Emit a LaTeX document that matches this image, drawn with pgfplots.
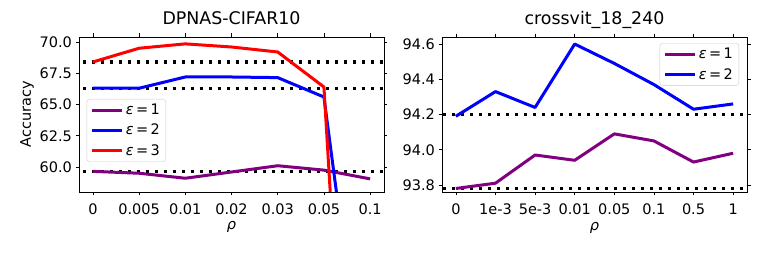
\documentclass[border=0pt]{standalone}
\usepackage{fontspec}
\setmainfont{DejaVu Sans}
\usepackage{pgfplots}
\pgfplotsset{compat=1.18}
\definecolor{mpurple}{RGB}{128,0,128}
\begin{document}
\begin{tikzpicture}
\useasboundingbox (0pt,0pt) rectangle (763pt,254pt);
\pgfplotsset{
  every axis/.append style={
    scale only axis, width=305pt, height=155pt,
    font=\fontsize{14.5}{16}\selectfont,
    /pgf/number format/assume math mode=true,
    tick align=outside, tick style={black, line width=0.7pt},
    major tick length=3.5pt,
    axis line style={line width=0.8pt},
    title style={font=\fontsize{17.4}{19}\selectfont, at={(0.5,1)}, anchor=base, yshift=6.5pt},
    xticklabel style={anchor=base, yshift=-19pt},
    xlabel style={font=\fontsize{14.5}{16}\selectfont, at={(0.5,0)}, anchor=base, yshift=-38pt},
    ylabel style={font=\fontsize{14.5}{16}\selectfont, yshift=-1pt},
    legend cell align=left,
    legend style={font=\fontsize{14.5}{16}\selectfont, draw=black!20, rounded corners=3pt, fill=white, fill opacity=0.8, text opacity=1, inner xsep=4pt, inner ysep=3pt, row sep=4pt},
    legend image code/.code={\draw[#1, line width=3pt] (0pt,0pt) -- (30pt,0pt);},
    clip=true,
  },
  dotl/.style={black, line width=3.2pt, dash pattern=on 3pt off 6pt, forget plot},
  ser/.style={line width=3pt, line join=round},
}
\begin{axis}[
  at={(79pt,62pt)}, anchor=south west,
  title={DPNAS-CIFAR10},
  xmin=-0.3, xmax=6.3, ymin=58.0, ymax=70.4,
  xtick={0,1,2,3,4,5,6},
  xticklabels={0,0.005,0.01,0.02,0.03,0.05,0.1},
  ytick={60,62.5,65,67.5,70},
  yticklabels={60.0,62.5,65.0,67.5,70.0},
  xlabel={\textit{ρ}}, ylabel={Accuracy},
  legend style={at={(0.025,0.397)}, anchor=west},
]
\addplot[dotl] coordinates {(-1,68.4) (7,68.4)};
\addplot[dotl] coordinates {(-1,66.25) (7,66.25)};
\addplot[dotl] coordinates {(-1,59.65) (7,59.65)};
\addplot[ser, color=mpurple] coordinates {(0,59.65) (1,59.5) (2,59.1) (3,59.6) (4,60.1) (5,59.75) (6,59.05)};
\addlegendentry{\textit{ε}\,=\,1}
\addplot[ser, color=blue] coordinates {(0,66.3) (1,66.3) (2,67.2) (3,67.2) (4,67.15) (5,65.6) (6,37.5)};
\addlegendentry{\textit{ε}\,=\,2}
\addplot[ser, color=red] coordinates {(0,68.4) (1,69.5) (2,69.85) (3,69.6) (4,69.2) (5,66.4) (6,5)};
\addlegendentry{\textit{ε}\,=\,3}
\end{axis}
\begin{axis}[
  at={(442pt,62pt)}, anchor=south west,
  title={crossvit\_18\_240},
  xmin=-0.35, xmax=7.35, ymin=93.76, ymax=94.64,
  xtick={0,1,2,3,4,5,6,7},
  xticklabels={0,1e-3,5e-3,0.01,0.05,0.1,0.5,1},
  ytick={93.8,94.0,94.2,94.4,94.6},
  yticklabels={93.8,94.0,94.2,94.4,94.6},
  xlabel={\textit{ρ}},
  legend style={at={(0.974,0.961)}, anchor=north east},
]
\addplot[dotl] coordinates {(-1,94.2) (8,94.2)};
\addplot[dotl] coordinates {(-1,93.78) (8,93.78)};
\addplot[ser, color=mpurple] coordinates {(0,93.78) (1,93.81) (2,93.97) (3,93.94) (4,94.09) (5,94.05) (6,93.93) (7,93.98)};
\addlegendentry{\textit{ε}\,=\,1}
\addplot[ser, color=blue] coordinates {(0,94.19) (1,94.33) (2,94.24) (3,94.60) (4,94.49) (5,94.37) (6,94.23) (7,94.26)};
\addlegendentry{\textit{ε}\,=\,2}
\end{axis}
\end{tikzpicture}
\end{document}
